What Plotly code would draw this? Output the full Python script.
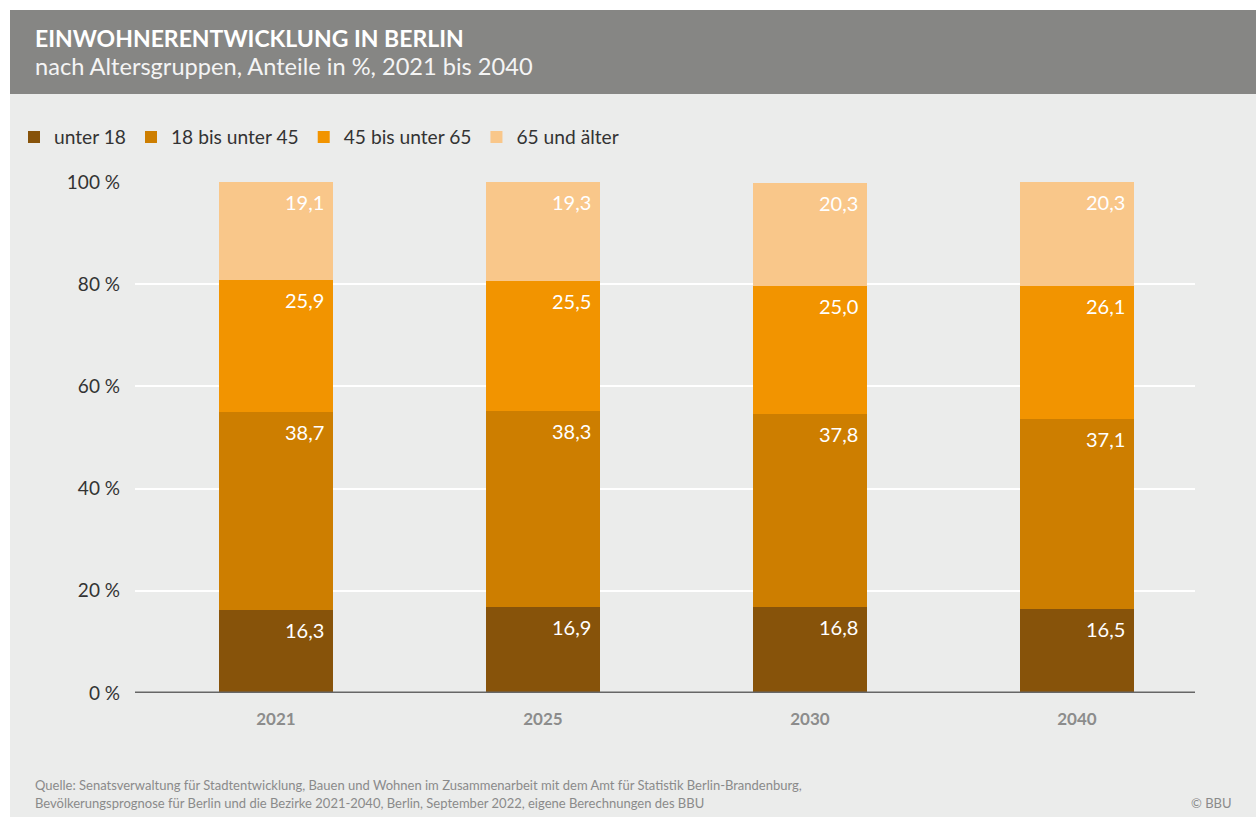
import plotly.graph_objects as go

years = ["2021", "2025", "2030", "2040"]
groups = ["unter 18", "18 bis unter 45", "45 bis unter 65", "65 und älter"]
unter_18 = [16.3, 16.9, 16.8, 16.5]
von_18_bis_45 = [38.7, 38.3, 37.8, 37.1]
von_45_bis_65 = [25.9, 25.5, 25.0, 26.1]
ab_65 = [19.1, 19.3, 20.3, 20.3]
y_ticks = [0, 20, 40, 60, 80, 100]
y_tick_text = ["0 %", "20 %", "40 %", "60 %", "80 %", "100 %"]

series = [unter_18, von_18_bis_45, von_45_bis_65, ab_65]
colors = ["#87530A", "#CD7E00", "#F29400", "#F9C78A"]

W, H = 1256, 820
ML, MR, MT, MB = 135, 61, 182, 127
BAR_W = 0.427
FONT = "Lato, Roboto, sans-serif"

fig = go.Figure()
for name, vals, col in zip(groups, series, colors):
    fig.add_trace(go.Bar(
        x=years, y=vals, name=name, marker=dict(color=col, line=dict(width=0)),
        width=BAR_W, hoverinfo="skip",
    ))

# value labels, right-aligned at the top of each segment
annotations = []
for i, yr in enumerate(years):
    cum = 0.0
    for vals in series:
        cum += vals[i]
        annotations.append(dict(
            x=i + BAR_W / 2, y=cum, xref="x", yref="y",
            text=f"{vals[i]:.1f}".replace(".", ","),
            xanchor="right", yanchor="top", xshift=-7, yshift=-6,
            showarrow=False,
            font=dict(family=FONT, size=20, color="white"),
        ))

# header and footer texts (pixel positions, converted below)
annotations += [
    dict(x=33, y=H - 38, xref="paper", yref="paper", text="<b>EINWOHNERENTWICKLUNG IN BERLIN</b>",
         showarrow=False, xanchor="left", yanchor="middle",
         font=dict(family=FONT, size=23, color="white")),
    dict(x=33, y=H - 66, xref="paper", yref="paper", text="nach Altersgruppen, Anteile in %, 2021 bis 2040",
         showarrow=False, xanchor="left", yanchor="middle",
         font=dict(family=FONT, size=23.6, color="#F4F4F4")),
    dict(x=33, y=H - 785, xref="paper", yref="paper",
         text="Quelle: Senatsverwaltung für Stadtentwicklung, Bauen und Wohnen im Zusammenarbeit mit dem Amt für Statistik Berlin-Brandenburg,",
         showarrow=False, xanchor="left", yanchor="middle",
         font=dict(family=FONT, size=13, color="#8A8A8A")),
    dict(x=33, y=H - 803, xref="paper", yref="paper",
         text="Bevölkerungsprognose für Berlin und die Bezirke 2021-2040, Berlin, September 2022, eigene Berechnungen des BBU",
         showarrow=False, xanchor="left", yanchor="middle",
         font=dict(family=FONT, size=13, color="#8A8A8A")),
    dict(x=1234, y=H - 803, xref="paper", yref="paper", text="© BBU",
         showarrow=False, xanchor="right", yanchor="middle",
         font=dict(family=FONT, size=13, color="#8A8A8A")),
]

for a in annotations:
    if a["xref"] == "paper":
        a["x"] = (a["x"] - ML) / (W - ML - MR)
        a["y"] = (a["y"] - MB) / (H - MT - MB)

def px_x(p):
    return (p - ML) / (W - ML - MR)

def px_y(p):
    return (H - p - MB) / (H - MT - MB)

shapes = [
    dict(type="rect", xref="paper", yref="paper", x0=px_x(10), x1=px_x(W), y0=px_y(H - 3), y1=px_y(10),
         fillcolor="#EBECEB", line=dict(width=0), layer="below"),
    dict(type="rect", xref="paper", yref="paper", x0=px_x(10), x1=px_x(W), y0=px_y(94), y1=px_y(10),
         fillcolor="#868684", line=dict(width=0), layer="below"),
]

fig.update_layout(
    width=W, height=H,
    margin=dict(l=ML, r=MR, t=MT, b=MB),
    paper_bgcolor="white", plot_bgcolor="#EBECEB",
    barmode="stack", bargap=0,
    annotations=annotations, shapes=shapes,
    showlegend=True,
    legend=dict(
        orientation="h", x=px_x(14), y=px_y(118), xanchor="left", yanchor="top",
        font=dict(family=FONT, size=19.2, color="#333333"),
        bgcolor="rgba(0,0,0,0)", itemclick=False, itemdoubleclick=False,
        traceorder="normal",
    ),
    xaxis=dict(
        type="category", range=[-0.528, 3.442], showgrid=False, zeroline=False,
        showline=False, ticks="",
        tickvals=years, ticktext=[f"<b>{y}</b>" for y in years],
        tickfont=dict(family=FONT, size=17, color="#8C8C8C"),
        ticklabelstandoff=14,
    ),
    yaxis=dict(
        range=[0, 100], tickvals=y_ticks, ticktext=y_tick_text,
        showgrid=True, gridcolor="white", gridwidth=1.5, zeroline=False,
        showline=False, ticks="",
        tickfont=dict(family=FONT, size=19, color="#333333"),
        ticklabelstandoff=14,
    ),
)
# baseline
fig.add_shape(type="line", xref="paper", yref="y", x0=0, x1=1, y0=0, y1=0,
              line=dict(color="#666666", width=3), layer="above")

fig.write_html("out.html")
